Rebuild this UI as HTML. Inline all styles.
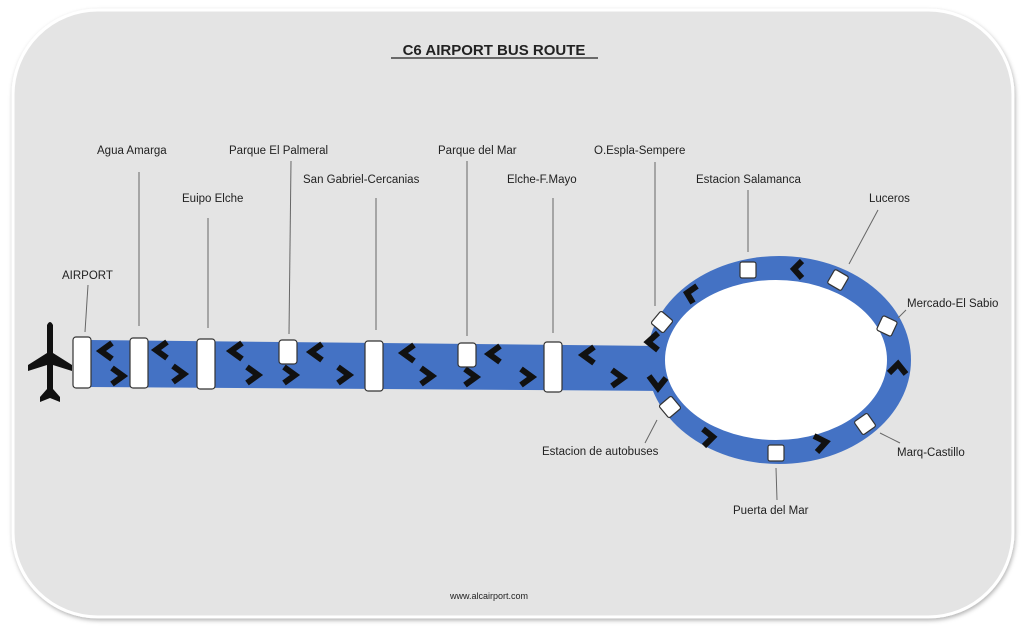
<!DOCTYPE html>
<html><head><meta charset="utf-8"><style>
html,body{margin:0;padding:0;background:#fff;}
svg{display:block;}
text{font-family:"Liberation Sans",sans-serif;font-size:11.5px;fill:#222;}
</style></head><body>
<svg width="1024" height="632" viewBox="0 0 1024 632">
<defs><filter id="sh" x="-5%" y="-5%" width="110%" height="110%"><feDropShadow dx="1" dy="2" stdDeviation="2" flood-color="#000" flood-opacity="0.3"/></filter></defs>
<rect x="13" y="10" width="1000" height="607" rx="85" fill="#e4e4e4" stroke="#fff" stroke-width="3" filter="url(#sh)"/>
<text x="494" y="55" text-anchor="middle" style="font-size:15px;font-weight:bold;fill:#222">C6 AIRPORT BUS ROUTE</text>
<line x1="391" y1="58" x2="598" y2="58" stroke="#222" stroke-width="1.3"/>
<polygon points="88,340 665,346 665,391 88,387" fill="#4472c4"/>
<ellipse cx="779" cy="360" rx="132" ry="104" fill="#4472c4"/>
<ellipse cx="776" cy="360" rx="111" ry="80" fill="#fff"/>
<g fill="#111" transform="translate(50,363)">
<path d="M-3,-38 Q0,-44 3,-38 L3,-10 L22,2 L22,8 L3,2 L3,26 L10,34 L10,39 L0,35 L-10,39 L-10,34 L-3,26 L-3,2 L-22,8 L-22,2 L-3,-10 Z"/>
</g>
<g fill="none" stroke="#111" stroke-width="6" stroke-linejoin="miter">
<polyline points="112,343 101,351 112,359"/><polyline points="112,368 123,376 112,384"/>
<polyline points="167,342 156,350 167,358"/><polyline points="173,366 184,374 173,382"/>
<polyline points="242,343 231,351 242,359"/><polyline points="247,367 258,375 247,383"/>
<polyline points="322,344 311,352 322,360"/><polyline points="284,367 295,375 284,383"/>
<polyline points="338,367 349,375 338,383"/>
<polyline points="414,345 403,353 414,361"/><polyline points="421,368 432,376 421,384"/>
<polyline points="500,346 489,354 500,362"/><polyline points="465,369 476,377 465,385"/>
<polyline points="521,369 532,377 521,385"/>
<polyline points="594,347 583,355 594,363"/><polyline points="612,370 623,378 612,386"/>
<polyline points="802,261 794,269 802,278"/>
<polyline points="697,286 687,293 693,303"/>
<polyline points="658,333 648,342 658,350"/>
<polyline points="649,376 658,388 666,378"/>
<polyline points="703,429 713,437 704,446"/>
<polyline points="814,436 826,442 817,452"/>
<polyline points="889,373 898,364 906,374"/>
</g>
<g fill="#fff" stroke="#333" stroke-width="1.2">
<rect x="73" y="337" width="18" height="51" rx="3"/>
<rect x="130" y="338" width="18" height="50" rx="3"/>
<rect x="197" y="339" width="18" height="50" rx="3"/>
<rect x="279" y="340" width="18" height="24" rx="3"/>
<rect x="365" y="341" width="18" height="50" rx="3"/>
<rect x="458" y="343" width="18" height="24" rx="3"/>
<rect x="544" y="342" width="18" height="50" rx="3"/>
<rect x="740" y="262" width="16" height="16" rx="2"/>
<rect x="830" y="272" width="16" height="16" rx="2" transform="rotate(30 838 280)"/>
<rect x="879" y="318" width="16" height="16" rx="2" transform="rotate(25 887 326)"/>
<rect x="654" y="314" width="16" height="16" rx="2" transform="rotate(40 662 322)"/>
<rect x="662" y="399" width="16" height="16" rx="2" transform="rotate(-40 670 407)"/>
<rect x="768" y="445" width="16" height="16" rx="2"/>
<rect x="857" y="416" width="16" height="16" rx="2" transform="rotate(-35 865 424)"/>
</g>
<g stroke="#666" stroke-width="1">
<line x1="88" y1="285" x2="85" y2="332"/>
<line x1="139" y1="172" x2="139" y2="326"/>
<line x1="208" y1="218" x2="208" y2="328"/>
<line x1="291" y1="161" x2="289" y2="334"/>
<line x1="376" y1="198" x2="376" y2="330"/>
<line x1="467" y1="161" x2="467" y2="336"/>
<line x1="553" y1="198" x2="553" y2="333"/>
<line x1="655" y1="162" x2="655" y2="306"/>
<line x1="748" y1="190" x2="748" y2="252"/>
<line x1="878" y1="210" x2="849" y2="264"/>
<line x1="906" y1="310" x2="898" y2="318"/>
<line x1="880" y1="433" x2="900" y2="443"/>
<line x1="776" y1="468" x2="777" y2="500"/>
<line x1="657" y1="420" x2="645" y2="443"/>
</g>
<text x="62" y="279">AIRPORT</text>
<text x="97" y="154">Agua Amarga</text>
<text x="182" y="202">Euipo Elche</text>
<text x="229" y="154">Parque El Palmeral</text>
<text x="303" y="183">San Gabriel-Cercanias</text>
<text x="438" y="154">Parque del Mar</text>
<text x="507" y="183">Elche-F.Mayo</text>
<text x="594" y="154">O.Espla-Sempere</text>
<text x="696" y="183">Estacion Salamanca</text>
<text x="869" y="202">Luceros</text>
<text x="907" y="307">Mercado-El Sabio</text>
<text x="897" y="456">Marq-Castillo</text>
<text x="733" y="514">Puerta del Mar</text>
<text x="542" y="455">Estacion de autobuses</text>
<text x="489" y="599" text-anchor="middle" style="font-size:9px">www.alcairport.com</text>
</svg>
</body></html>
